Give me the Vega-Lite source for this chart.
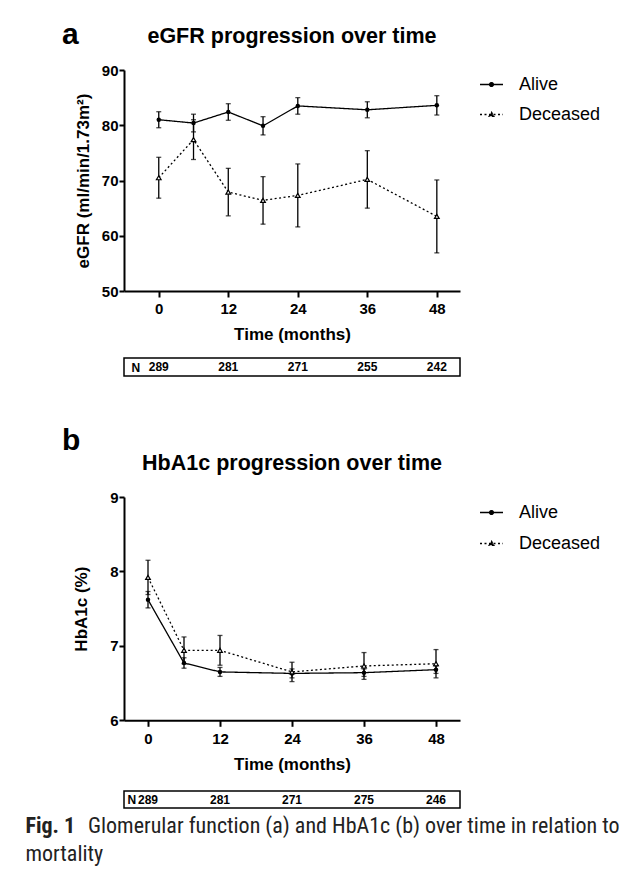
{
  "$schema": "https://vega.github.io/schema/vega-lite/v6.json",
  "padding": {"left": 25, "top": 20, "right": 5, "bottom": 5},
  "datasets": {
    "egfr": [
      {"month": 0, "group": "Alive", "mean": 81.0, "sem": 1.45},
      {"month": 6, "group": "Alive", "mean": 80.4, "sem": 1.6},
      {"month": 12, "group": "Alive", "mean": 82.4, "sem": 1.5},
      {"month": 18, "group": "Alive", "mean": 79.9, "sem": 1.65},
      {"month": 24, "group": "Alive", "mean": 83.5, "sem": 1.5},
      {"month": 36, "group": "Alive", "mean": 82.8, "sem": 1.45},
      {"month": 48, "group": "Alive", "mean": 83.6, "sem": 1.75},
      {"month": 0, "group": "Deceased", "mean": 70.5, "sem": 3.7},
      {"month": 6, "group": "Deceased", "mean": 77.4, "sem": 3.6},
      {"month": 12, "group": "Deceased", "mean": 67.9, "sem": 4.3},
      {"month": 18, "group": "Deceased", "mean": 66.4, "sem": 4.3},
      {"month": 24, "group": "Deceased", "mean": 67.3, "sem": 5.7},
      {"month": 36, "group": "Deceased", "mean": 70.2, "sem": 5.2},
      {"month": 48, "group": "Deceased", "mean": 63.5, "sem": 6.6}
    ],
    "hba1c": [
      {"month": 0, "group": "Alive", "mean": 7.62, "sem": 0.11},
      {"month": 6, "group": "Alive", "mean": 6.77, "sem": 0.07},
      {"month": 12, "group": "Alive", "mean": 6.65, "sem": 0.06},
      {"month": 24, "group": "Alive", "mean": 6.63, "sem": 0.06},
      {"month": 36, "group": "Alive", "mean": 6.64, "sem": 0.05},
      {"month": 48, "group": "Alive", "mean": 6.68, "sem": 0.05},
      {"month": 0, "group": "Deceased", "mean": 7.92, "sem": 0.23},
      {"month": 6, "group": "Deceased", "mean": 6.94, "sem": 0.18},
      {"month": 12, "group": "Deceased", "mean": 6.94, "sem": 0.2},
      {"month": 24, "group": "Deceased", "mean": 6.65, "sem": 0.13},
      {"month": 36, "group": "Deceased", "mean": 6.73, "sem": 0.18},
      {"month": 48, "group": "Deceased", "mean": 6.76, "sem": 0.19}
    ],
    "nA": [
      {"label": "N", "month": 0, "n": 289},
      {"label": "N", "month": 12, "n": 281},
      {"label": "N", "month": 24, "n": 271},
      {"label": "N", "month": 36, "n": 255},
      {"label": "N", "month": 48, "n": 242}
    ],
    "nB": [
      {"label": "N", "month": 0, "n": 289},
      {"label": "N", "month": 12, "n": 281},
      {"label": "N", "month": 24, "n": 271},
      {"label": "N", "month": 36, "n": 275},
      {"label": "N", "month": 48, "n": 246}
    ],
    "empty": []
  },
  "bounds": "flush",
  "spacing": 0,
  "resolve": {"scale": {"strokeDash": "independent"}, "legend": {"strokeDash": "independent"}},
  "vconcat": [
    {
      "width": 1, "height": 1,
      "data": {"name": "empty"},
      "mark": "point",
      "title": {"text": "a", "anchor": "start", "fontSize": 30, "fontWeight": "bold", "dx": -62, "offset": 19}
    },
    {
      "width": 336, "height": 221,
      "data": {"name": "egfr"},
      "title": {"text": "eGFR progression over time", "anchor": "middle", "fontSize": 21.5, "fontWeight": "bold", "offset": 16},
      "encoding": {
        "x": {"field": "month", "type": "quantitative",
              "scale": {"domain": [-6, 52], "nice": false, "zero": false},
              "axis": {"values": [0, 12, 24, 36, 48], "title": "Time (months)", "tickSize": 6, "labelPadding": 4, "titlePadding": 10, "labelFlush": false}},
        "y": {"field": "mean", "type": "quantitative",
              "scale": {"domain": [50, 90], "nice": false, "zero": false},
              "axis": {"values": [50, 60, 70, 80, 90], "title": "eGFR (ml/min/1.73m²)", "tickSize": 5, "labelPadding": 1, "titlePadding": 9}}
      },
      "layer": [
        {
          "mark": {"type": "errorbar", "color": "black", "ticks": {"size": 5, "thickness": 1.3, "color": "black"}, "rule": {"strokeWidth": 1.3}},
          "encoding": {"yError": {"field": "sem"}, "detail": {"field": "group"}}
        },
        {
          "mark": {"type": "line", "color": "black", "strokeWidth": 1.3},
          "encoding": {
            "strokeDash": {"field": "group", "type": "nominal",
              "scale": {"domain": ["Alive", "Deceased"], "range": [[1, 0], [2, 2.5]]},
              "legend": {"title": null, "orient": "none", "legendX": 355, "legendY": 2, "padding": 0,
                "labelFontSize": 18, "labelFont": "Liberation Sans", "labelColor": "black", "labelOffset": 15,
                "symbolSize": 529, "symbolStrokeWidth": 1.3, "symbolStrokeColor": "black", "symbolFillColor": "black",
                "rowPadding": 8, "symbolType": "M-1,0H1",
                "encode": {"symbols": {"update": {
                  "shape": {"signal": "datum.value === 'Alive' ? 'M-1,0H1M-0.17,0A0.17,0.17,0,1,1,0.17,0A0.17,0.17,0,1,1,-0.17,0Z' : 'M-1,0H1M0,-0.2L0.2,0.15L-0.2,0.15Z'"},
                  "fill": {"value": "black"},
                  "stroke": {"value": "black"}
                }}}
              }}
          }
        },
        {
          "transform": [{"filter": "datum.group === 'Alive'"}],
          "mark": {"type": "point", "shape": "circle", "filled": true, "color": "black", "opacity": 1, "size": 20}
        },
        {
          "transform": [{"filter": "datum.group === 'Deceased'"}],
          "mark": {"type": "point", "shape": "triangle-up", "fill": "white", "stroke": "black", "strokeWidth": 1.2, "opacity": 1, "fillOpacity": 1, "size": 22}
        }
      ]
    },
    {"width": 1, "height": 67, "data": {"name": "empty"}, "mark": "point"},
    {
      "width": 336, "height": 18,
      "view": {"stroke": "black", "strokeWidth": 1.5},
      "data": {"name": "nA"},
      "mark": {"type": "text", "fontSize": 12, "fontWeight": "bold", "color": "black"},
      "encoding": {
        "x": {"field": "month", "type": "quantitative", "scale": {"domain": [-6, 52], "nice": false, "zero": false}, "axis": null},
        "y": {"field": "label", "type": "nominal", "axis": {"title": null, "domain": false, "ticks": false, "labelAlign": "left", "labelPadding": -7, "labelFontSize": 12, "labelFontWeight": "bold"}},
        "text": {"field": "n", "type": "nominal"}
      }
    },
    {"width": 1, "height": 119.7, "data": {"name": "empty"}, "mark": "point"},
    {
      "width": 1, "height": 1,
      "data": {"name": "empty"},
      "mark": "point",
      "title": {"text": "b", "anchor": "start", "fontSize": 30, "fontWeight": "bold", "dx": -62, "offset": 40}
    },
    {
      "width": 336, "height": 223.3,
      "data": {"name": "hba1c"},
      "title": {"text": "HbA1c progression over time", "anchor": "middle", "fontSize": 21.5, "fontWeight": "bold", "offset": 16},
      "encoding": {
        "x": {"field": "month", "type": "quantitative",
              "scale": {"domain": [-4, 52], "nice": false, "zero": false},
              "axis": {"values": [0, 12, 24, 36, 48], "title": "Time (months)", "tickSize": 6, "labelPadding": 5, "titlePadding": 10, "labelFlush": false}},
        "y": {"field": "mean", "type": "quantitative",
              "scale": {"domain": [6, 9], "nice": false, "zero": false},
              "axis": {"values": [6, 7, 8, 9], "title": "HbA1c (%)", "tickSize": 5, "labelPadding": 1, "titlePadding": 19}}
      },
      "layer": [
        {
          "mark": {"type": "errorbar", "color": "black", "ticks": {"size": 5, "thickness": 1.3, "color": "black"}, "rule": {"strokeWidth": 1.3}},
          "encoding": {"yError": {"field": "sem"}, "detail": {"field": "group"}}
        },
        {
          "mark": {"type": "line", "color": "black", "strokeWidth": 1.3},
          "encoding": {
            "strokeDash": {"field": "group", "type": "nominal",
              "scale": {"domain": ["Alive", "Deceased"], "range": [[1, 0], [2, 2.5]]},
              "legend": {"title": null, "orient": "none", "legendX": 355, "legendY": 3, "padding": 0,
                "labelFontSize": 18, "labelFont": "Liberation Sans", "labelColor": "black", "labelOffset": 15,
                "symbolSize": 529, "symbolStrokeWidth": 1.3, "symbolStrokeColor": "black", "symbolFillColor": "black",
                "rowPadding": 9, "symbolType": "M-1,0H1",
                "encode": {"symbols": {"update": {
                  "shape": {"signal": "datum.value === 'Alive' ? 'M-1,0H1M-0.17,0A0.17,0.17,0,1,1,0.17,0A0.17,0.17,0,1,1,-0.17,0Z' : 'M-1,0H1M0,-0.2L0.2,0.15L-0.2,0.15Z'"},
                  "fill": {"value": "black"},
                  "stroke": {"value": "black"}
                }}}
              }}
          }
        },
        {
          "transform": [{"filter": "datum.group === 'Alive'"}],
          "mark": {"type": "point", "shape": "circle", "filled": true, "color": "black", "opacity": 1, "size": 20}
        },
        {
          "transform": [{"filter": "datum.group === 'Deceased'"}],
          "mark": {"type": "point", "shape": "triangle-up", "fill": "white", "stroke": "black", "strokeWidth": 1.2, "opacity": 1, "fillOpacity": 1, "size": 22}
        }
      ]
    },
    {"width": 1, "height": 70, "data": {"name": "empty"}, "mark": "point"},
    {
      "width": 336, "height": 17,
      "view": {"stroke": "black", "strokeWidth": 1.5},
      "data": {"name": "nB"},
      "mark": {"type": "text", "fontSize": 12, "fontWeight": "bold", "color": "black"},
      "encoding": {
        "x": {"field": "month", "type": "quantitative", "scale": {"domain": [-4, 52], "nice": false, "zero": false}, "axis": null},
        "y": {"field": "label", "type": "nominal", "axis": {"title": null, "domain": false, "ticks": false, "labelAlign": "left", "labelPadding": -3, "labelFontSize": 12, "labelFontWeight": "bold"}},
        "text": {"field": "n", "type": "nominal"}
      }
    },
    {
      "width": 1, "height": 1,
      "data": {"name": "empty"},
      "mark": "point",
      "title": {"text": "Fig. 1", "orient": "bottom", "anchor": "start", "fontSize": 22, "fontWeight": "bold",
                "font": "Liberation Sans Narrow, Roboto Condensed, Roboto, sans-serif", "color": "#222222", "dx": -98.5, "offset": 7}
    },
    {
      "width": 1, "height": 1,
      "data": {"name": "empty"},
      "mark": "point",
      "title": {"text": "Glomerular function (a) and HbA1c (b) over time in relation to", "orient": "bottom", "anchor": "start", "fontSize": 22, "fontWeight": "normal",
                "font": "Liberation Sans Narrow, Roboto Condensed, Roboto, sans-serif", "color": "#222222", "dx": -36, "offset": 6}
    },
    {
      "width": 1, "height": 1,
      "data": {"name": "empty"},
      "mark": "point",
      "title": {"text": "mortality", "orient": "bottom", "anchor": "start", "fontSize": 22, "fontWeight": "normal",
                "font": "Liberation Sans Narrow, Roboto Condensed, Roboto, sans-serif", "color": "#222222", "dx": -98.5, "offset": 33}
    }
  ],
  "config": {
    "view": {"stroke": null},
    "font": "Liberation Sans",
    "title": {"color": "black", "font": "Liberation Sans"},
    "axis": {
      "domainColor": "black", "tickColor": "black", "labelColor": "black", "titleColor": "black",
      "domainWidth": 2, "tickWidth": 2, "grid": false,
      "labelFont": "Liberation Sans", "titleFont": "Liberation Sans",
      "labelFontWeight": "bold", "labelFontSize": 15,
      "titleFontWeight": "bold", "titleFontSize": 17
    }
  }
}
